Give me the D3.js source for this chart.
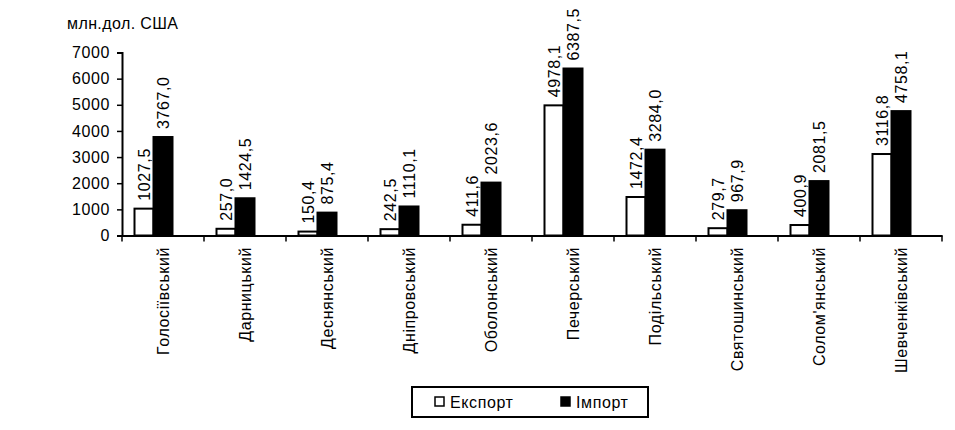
<!DOCTYPE html>
<html>
<head>
<meta charset="utf-8">
<script src="https://cdn.jsdelivr.net/npm/d3@7"></script>
<style>
  body { margin: 0; background: #fff; }
  text { font-family: "Liberation Sans", Arial, sans-serif; fill: #000; letter-spacing: 0.6px; }
</style>
</head>
<body>
<svg id="chart" width="955" height="430"></svg>
<script>
// districts of Kyiv
const districts = ['Голосіївський', 'Дарницький', 'Деснянський', 'Дніпровський', 'Оболонський',
  'Печерський', 'Подільський', 'Святошинський', 'Солом\'янський', 'Шевченківський']
const exportValues = [1027.5, 257.0, 150.4, 242.5, 411.6, 4978.1, 1472.4, 279.7, 400.9, 3116.8]
const importValues = [3767.0, 1424.5, 875.4, 1110.1, 2023.6, 6387.5, 3284.0, 967.9, 2081.5, 4758.1]
const yTicks = [0, 1000, 2000, 3000, 4000, 5000, 6000, 7000]
const seriesNames = ['Експорт', 'Імпорт']

const svg = d3.select('#chart')
const fmt = v => d3.format('.1f')(v).replace('.', ',')
const fontSize = 16

const x = d3.scaleBand()
  .domain(districts)
  .range([122, 942])
  .padding(0)

const y = d3.scaleLinear()
  .domain([0, 7000])
  .range([235.5, 52.5])

const barW = 19
const offset = 12.5

// bars
const groups = svg.append('g')
  .selectAll('g')
  .data(districts)
  .join('g')

groups.append('rect')
  .attr('x', d => x(d) + offset)
  .attr('y', (d, i) => y(exportValues[i]))
  .attr('width', barW)
  .attr('height', (d, i) => y(0) - y(exportValues[i]))
  .attr('fill', '#fff')
  .attr('stroke', '#000')
  .attr('stroke-width', 2)

groups.append('rect')
  .attr('x', d => x(d) + offset + barW)
  .attr('y', (d, i) => y(importValues[i]))
  .attr('width', barW)
  .attr('height', (d, i) => y(0) - y(importValues[i]))
  .attr('fill', '#000')
  .attr('stroke', '#000')
  .attr('stroke-width', 2)

// value labels (rotated)
function valueLabel(values, shift) {
  groups.append('text')
    .attr('transform', (d, i) => {
      const cx = x(d) + offset + shift + barW / 2
      const cy = y(values[i]) - 8
      return `translate(${cx},${cy}) rotate(-90)`
    })
    .attr('dy', '0.35em')
    .attr('font-size', fontSize)
    .text((d, i) => fmt(values[i]))
}
valueLabel(exportValues, 0)
valueLabel(importValues, barW)

// y axis
const yAxis = svg.append('g')
  .attr('transform', 'translate(122,0)')
  .call(d3.axisLeft(y).tickValues(yTicks).tickSize(5).tickPadding(7).tickFormat(d3.format('d')))
yAxis.select('.domain').attr('stroke-width', 2)
yAxis.selectAll('.tick line').attr('stroke-width', 1.5)
yAxis.selectAll('.tick text').attr('font-size', fontSize).attr('font-family', '"Liberation Sans", Arial, sans-serif')

// x axis
const xAxis = svg.append('g')
  .attr('transform', `translate(0,${y(0)})`)
  .call(d3.axisBottom(x).tickSize(0).tickFormat(''))
xAxis.select('.domain').attr('stroke-width', 2)

// tick marks between categories
svg.append('g')
  .selectAll('line')
  .data(districts.concat(['end']))
  .join('line')
  .attr('x1', (d, i) => 122 + i * x.bandwidth())
  .attr('x2', (d, i) => 122 + i * x.bandwidth())
  .attr('y1', y(0))
  .attr('y2', y(0) + 6)
  .attr('stroke', '#000')
  .attr('stroke-width', 1.5)

// category labels
svg.append('g')
  .selectAll('text')
  .data(districts)
  .join('text')
  .attr('transform', d => `translate(${x(d) + x.bandwidth() / 2},247) rotate(-90)`)
  .attr('text-anchor', 'end')
  .attr('dy', '0.35em')
  .attr('font-size', fontSize)
  .text(d => d)

// y title
svg.append('text')
  .attr('x', 67)
  .attr('y', 29)
  .attr('font-size', fontSize)
  .style('letter-spacing', '0.4px')
  .text('млн.дол. США')

// legend
const legend = svg.append('g')
legend.append('rect')
  .attr('x', 412).attr('y', 387)
  .attr('width', 236).attr('height', 30)
  .attr('fill', '#fff').attr('stroke', '#000').attr('stroke-width', 2)

const legendX = [435, 561]
seriesNames.forEach((name, i) => {
  legend.append('rect')
    .attr('x', legendX[i]).attr('y', 397)
    .attr('width', 9).attr('height', 9)
    .attr('fill', i === 0 ? '#fff' : '#000')
    .attr('stroke', '#000').attr('stroke-width', 1.5)
  legend.append('text')
    .attr('x', legendX[i] + 15).attr('y', 408)
    .attr('font-size', fontSize)
    .text(name)
})
</script>
</body>
</html>
